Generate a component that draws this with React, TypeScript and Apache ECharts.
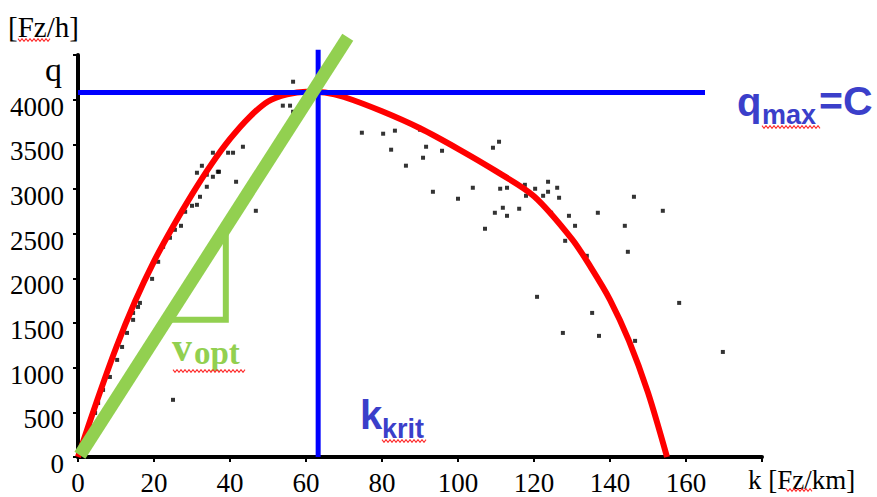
import React, { useEffect, useRef } from "react";
import * as echarts from "echarts";

// ---- data ----
const xTickValues = [0, 20, 40, 60, 80, 100, 120, 140, 160];
const yTickValues = [0, 500, 1000, 1500, 2000, 2500, 3000, 3500, 4000];

// red fundamental-diagram curve (k [Fz/km], q [Fz/h])
const curveK = [0, 5, 10, 15, 20, 25, 30, 35, 40, 45, 50, 55, 60, 65, 70, 80, 90, 100, 110, 120, 130, 135, 140, 145, 150, 155];
const curveQ = [0, 630, 1220, 1740, 2190, 2580, 2940, 3270, 3560, 3800, 3980, 4060, 4090, 4080, 4030, 3870, 3680, 3450, 3200, 2920, 2440, 2120, 1760, 1300, 720, 0];

// measured points
const pointK = [
  1.8, 3.2, 4.5, 5.3, 6.6, 8.4, 10.3, 11.6, 12.9, 14.5, 15.8, 16.3, 14.5, 19.5, 21.1, 22.4, 24.2, 25.5, 27.1, 28.2, 30.0, 31.3, 32.1,
  33.9, 41.6, 33.9, 35.5, 36.8, 31.3, 32.6, 37.1, 35.5, 39.5, 40.8, 43.4, 46.8, 25.0,
  56.6, 53.9, 55.8, 56.6,
  74.7, 80.3, 83.4, 90.0, 82.4, 91.6, 95.8, 90.8, 86.3, 110.8, 109.2, 93.4, 100.0, 103.9, 111.1, 112.9, 117.6, 123.7, 126.1, 120.3,
  123.7, 117.9, 122.4, 126.6, 111.8, 109.7, 112.9, 116.1, 124.5, 107.1, 129.2, 130.8, 136.8, 146.3, 153.9, 143.9, 128.2, 133.9,
  144.7, 120.8, 135.3, 158.2, 127.6, 137.1, 146.6, 169.7,
];
const pointQ = [
  190, 336, 493, 605, 751, 896, 1087, 1232, 1389, 1535, 1680, 1725, 1613, 1994, 2185, 2353, 2454, 2543, 2588, 2745, 2812, 2823, 2913,
  3025, 3081, 3160, 3137, 3193, 3182, 3260, 3193, 3406, 3406, 3406, 3473, 2756, 640,
  4201, 3933, 3933, 3865,
  3630, 3619, 3653, 3664, 3440, 3473, 3428, 3350, 3261, 3529, 3462, 2969, 2891, 3014, 3003, 3014, 3047, 3081, 3014, 3003,
  2969, 2924, 2924, 2902, 2790, 2734, 2700, 2779, 2734, 2555, 2700, 2588, 2734, 2913, 2756, 2588, 2420, 2252,
  2297, 1793, 1613, 1725, 1389, 1356, 1300, 1176,
];

const qMax = 4080; // capacity C
const kKrit = 63.2; // critical density
const qMaxLineEndK = 165;
const kKritLineTopQ = 4560;
const vOptK = [0.5, 71];
const vOptQ = [20, 4700];
const triangleK = [23.2, 38.9, 38.9];
const triangleQ = [1535, 1535, 2575];

const RED = "#ff0000";
const BLUE = "#0000ff";
const GREEN = "#92d050";
const LABEL_BLUE = "#3b3fca";
const SERIF = "'Liberation Serif', 'Times New Roman', serif";
const SANS = "'Liberation Sans', Arial, sans-serif";

function wave(x1: number, x2: number, y: number) {
  const pts: number[][] = [];
  let up = true;
  for (let x = x1; x <= x2; x += 2) {
    pts.push([x, y + (up ? -1.3 : 1.3)]);
    up = !up;
  }
  return {
    type: "polyline",
    shape: { points: pts },
    style: { stroke: "#ff3030", lineWidth: 1.1, fill: null },
    z: 100,
  };
}

function txt(text: string, x: number, baseline: number, size: number, family: string, bold: boolean, fill: string) {
  return {
    type: "text",
    x,
    y: baseline - 0.31 * size,
    z: 100,
    style: {
      text,
      fill,
      font: `${bold ? "bold " : ""}${size}px ${family}`,
      textAlign: "left",
      textVerticalAlign: "middle",
    },
  };
}

export default function App() {
  const ref = useRef<HTMLDivElement>(null);
  useEffect(() => {
    if (!ref.current) return;
    const chart = echarts.init(ref.current, undefined, { renderer: "svg" });
    const pairs = (a: number[], b: number[]) => a.map((v, i) => [v, b[i]]);
    chart.setOption({
      animation: false,
      backgroundColor: "#ffffff",
      grid: { left: 78, right: 115, top: 55, bottom: 40 },
      xAxis: {
        type: "value",
        min: 0,
        max: 180,
        interval: 20,
        axisLine: { show: true, onZero: false, lineStyle: { color: "#000", width: 4 } },
        axisTick: { show: true, length: 5, lineStyle: { color: "#000", width: 2 } },
        axisLabel: {
          margin: 12,
          color: "#000",
          fontFamily: SERIF,
          fontSize: 27,
          formatter: (v: number) => (xTickValues.includes(v) ? String(v) : ""),
        },
        splitLine: { show: false },
      },
      yAxis: {
        type: "value",
        min: 0,
        max: 4500,
        interval: 500,
        axisLine: { show: true, onZero: false, lineStyle: { color: "#000", width: 4 } },
        axisTick: { show: true, length: 5, lineStyle: { color: "#000", width: 2 } },
        axisLabel: {
          margin: 14,
          color: "#000",
          formatter: (v: number) => (yTickValues.includes(v) ? `{t|${v}}` : ""),
          rich: {
            t: {
              fontFamily: SERIF,
              fontSize: 27,
              color: "#000",
              padding: [14, 0, 0, 0],
            },
          },
        },
        splitLine: { show: false },
      },
      series: [
        {
          type: "scatter",
          data: pairs(pointK, pointQ),
          symbol: "rect",
          symbolSize: [4, 4],
          itemStyle: { color: "#000" },
          z: 2,
        },
        {
          type: "line",
          data: pairs(curveK, curveQ),
          smooth: 0.3,
          showSymbol: false,
          lineStyle: { color: RED, width: 6 },
          z: 3,
        },
        {
          type: "line",
          data: [[0, qMax], [qMaxLineEndK, qMax]],
          showSymbol: false,
          clip: false,
          lineStyle: { color: BLUE, width: 5 },
          z: 4,
        },
        {
          type: "line",
          data: [[kKrit, 0], [kKrit, kKritLineTopQ]],
          showSymbol: false,
          clip: false,
          lineStyle: { color: BLUE, width: 5 },
          z: 4,
        },
        {
          type: "line",
          data: pairs(vOptK, vOptQ),
          showSymbol: false,
          clip: false,
          lineStyle: { color: GREEN, width: 13, cap: "butt" },
          z: 5,
        },
        {
          type: "line",
          data: pairs(triangleK, triangleQ),
          showSymbol: false,
          clip: false,
          lineStyle: { color: GREEN, width: 6, join: "miter" },
          z: 5,
        },
      ],
      graphic: [
        txt("[Fz/h]", 8, 36, 29, SERIF, false, "#000"),
        wave(18, 50, 40),
        txt("q", 45, 80, 34, SERIF, false, "#000"),
        txt("q", 737, 114, 40, SANS, true, LABEL_BLUE),
        txt("max", 762, 123, 27, SANS, true, LABEL_BLUE),
        wave(762, 820, 127),
        txt("=C", 819, 114, 41, SANS, true, LABEL_BLUE),
        txt("k", 360, 427, 40, SANS, true, LABEL_BLUE),
        txt("krit", 382, 437, 27, SANS, true, LABEL_BLUE),
        wave(382, 427, 441),
        txt("v", 172, 360, 40, SERIF, true, GREEN),
        txt("opt", 194, 363, 33, SERIF, true, GREEN),
        wave(173, 246, 371),
        txt("k [Fz/km]", 748, 488, 27, SERIF, false, "#000"),
        wave(786, 812, 490),
      ],
    });
    return () => chart.dispose();
  }, []);
  return (
    <div
      ref={ref}
      style={{ position: "fixed", left: 0, top: 0, width: 877, height: 497, background: "#fff" }}
    />
  );
}
